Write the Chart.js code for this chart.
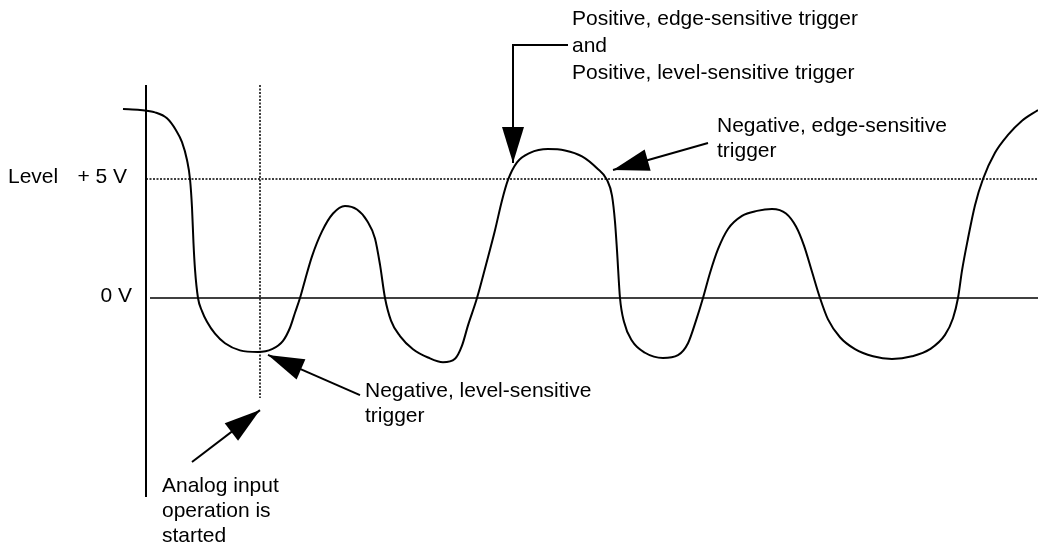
<!DOCTYPE html>
<html>
<head>
<meta charset="utf-8">
<title>Analog trigger types</title>
<script src="https://cdn.jsdelivr.net/npm/chart.js@4/dist/chart.umd.min.js"></script>
<style>
  html, body { margin: 0; padding: 0; background: #fff; }
  #chart { display: block; }
</style>
</head>
<body>
<canvas id="chart" width="1038" height="546"></canvas>
<script>
// input signal, sampled along the time axis (volts)
var TIME = [123, 140, 155, 167, 176, 182, 187, 190, 192, 193.5, 195, 198, 202, 207, 215, 225, 240, 258,
  272, 283, 290, 295, 300, 305, 312, 322, 333, 345, 357, 367, 375, 380, 385, 391, 400, 413, 428, 443,
  455, 462, 468, 477, 486, 495, 502, 508, 517, 530, 548, 565, 582, 597, 607, 612, 615, 617, 620,
  624, 632, 645, 663, 678, 688, 696, 703, 710, 718, 728, 742, 757, 772, 786, 796, 804, 812, 820,
  828, 840, 855, 873, 892, 912, 930, 945, 953, 958, 962, 968, 975, 983, 995, 1008, 1022, 1038];
var SIGNAL = [7.94, 7.90, 7.80, 7.55, 7.05, 6.55, 5.80, 5.00, 3.80, 2.30, 1.20, 0, -0.55, -1.00,
  -1.50, -1.90, -2.20, -2.27,
  -2.15, -1.80, -1.25, -0.62, 0, 0.75, 1.75, 2.80, 3.55, 3.87, 3.72, 3.25, 2.50, 1.40, 0, -0.95,
  -1.60, -2.15, -2.50, -2.70,
  -2.55, -2.00, -1.15, 0, 1.40, 2.85, 4.10, 4.96, 5.70, 6.10, 6.26, 6.20, 5.95, 5.45, 4.96, 4.30,
  3.20, 2.00, 0,
  -1.00, -1.80, -2.30, -2.52, -2.40, -1.90, -0.95, 0, 1.05, 2.05, 2.90, 3.45, 3.66, 3.74, 3.55,
  3.00, 2.20, 1.10, 0,
  -0.90, -1.65, -2.15, -2.45, -2.56, -2.45, -2.15, -1.55, -0.85, 0, 1.15, 2.50, 3.90, 5.00, 6.10,
  6.85, 7.45, 7.90];

var LEVEL = 5;
var ZERO = 0;
var LEVEL_LABEL = ['Level', '+ 5 V'];
var ZERO_LABEL = '0 V';

// trigger notes and the arrows pointing at the signal
var NOTES = [
  ['Positive, edge-sensitive trigger', 'and', 'Positive, level-sensitive trigger'],
  ['Negative, edge-sensitive', 'trigger'],
  ['Negative, level-sensitive', 'trigger'],
  ['Analog input', 'operation is', 'started']
];
var NOTE_AT = [[572, 11.47, 27], [717, 6.97, 25], [365, -4.16, 25], [162, -8.15, 25]];
var ARROWS = [
  [[568, 10.63], [513, 10.63], [513, 5.67]],
  [[708, 6.51], [613, 5.38]],
  [[360, -4.08], [268, -2.39]],
  [[192, -6.89], [260, -4.71]]
];

var START_TIME = 260;
var AXIS_TIME = 146;

var FONT = '21px "Liberation Sans", Arial, Helvetica, sans-serif';

function guide(points, width, dash) {
  return {
    data: points.map(p => ({x: p[0], y: p[1]})),
    borderColor: '#000',
    borderWidth: width,
    borderDash: dash || [],
    pointRadius: 0,
    tension: 0
  };
}

function arrowHead(ctx, from, to) {
  var ang = Math.atan2(to.y - from.y, to.x - from.x);
  var len = 36, half = 11;
  ctx.beginPath();
  ctx.moveTo(to.x, to.y);
  ctx.lineTo(to.x - len * Math.cos(ang) + half * Math.sin(ang), to.y - len * Math.sin(ang) - half * Math.cos(ang));
  ctx.lineTo(to.x - len * Math.cos(ang) - half * Math.sin(ang), to.y - len * Math.sin(ang) + half * Math.cos(ang));
  ctx.closePath();
  ctx.fill();
}

var notesPlugin = {
  id: 'notes',
  afterDatasetsDraw: function(chart) {
    var ctx = chart.ctx;
    var xs = chart.scales.x, ys = chart.scales.y;
    ctx.save();
    ctx.fillStyle = '#000';
    ctx.strokeStyle = '#000';
    ctx.lineWidth = 2;

    ARROWS.forEach(function(path) {
      var pts = path.map(p => ({x: xs.getPixelForValue(p[0]), y: ys.getPixelForValue(p[1])}));
      ctx.beginPath();
      ctx.moveTo(pts[0].x, pts[0].y);
      for (var i = 1; i < pts.length; i++) ctx.lineTo(pts[i].x, pts[i].y);
      ctx.stroke();
      arrowHead(ctx, pts[pts.length - 2], pts[pts.length - 1]);
    });

    ctx.font = FONT;
    ctx.textBaseline = 'alphabetic';
    NOTES.forEach(function(lines, n) {
      var x = xs.getPixelForValue(NOTE_AT[n][0]);
      var y = ys.getPixelForValue(NOTE_AT[n][1]);
      lines.forEach(function(txt, i) {
        ctx.fillText(txt, x, y + i * NOTE_AT[n][2]);
      });
    });

    // level labels left of the axis
    var yl = ys.getPixelForValue(LEVEL) + 4;
    var y0 = ys.getPixelForValue(ZERO) + 4;
    ctx.textAlign = 'left';
    ctx.fillText(LEVEL_LABEL[0], 8, yl);
    ctx.textAlign = 'right';
    ctx.fillText(LEVEL_LABEL[1], 127, yl);
    ctx.fillText(ZERO_LABEL, 132, y0);
    ctx.restore();
  }
};

var ctx = document.getElementById('chart');
var chart = new Chart(ctx, { // eslint-disable-line
  type: 'line',
  data: {
    datasets: [
      {
        data: TIME.map((t, i) => ({x: t, y: SIGNAL[i]})),
        borderColor: '#000',
        borderWidth: 2,
        pointRadius: 0,
        cubicInterpolationMode: 'monotone'
      },
      guide([[150, ZERO], [1038, ZERO]], 1.5),
      guide([[AXIS_TIME, LEVEL], [1038, LEVEL]], 1.5, [2, 1.5]),
      guide([[AXIS_TIME, 8.95], [AXIS_TIME, -8.36]], 2),
      guide([[START_TIME, 8.95], [START_TIME, -4.2]], 1.5, [2, 1.5])
    ]
  },
  options: {
    responsive: false,
    animation: false,
    layout: { padding: 0 },
    plugins: { legend: { display: false }, tooltip: { enabled: false } },
    scales: {
      x: { type: 'linear', min: 0, max: 1038, display: false },
      y: { min: -10.42, max: 12.521, display: false }
    }
  },
  plugins: [notesPlugin]
});
</script>
</body>
</html>
